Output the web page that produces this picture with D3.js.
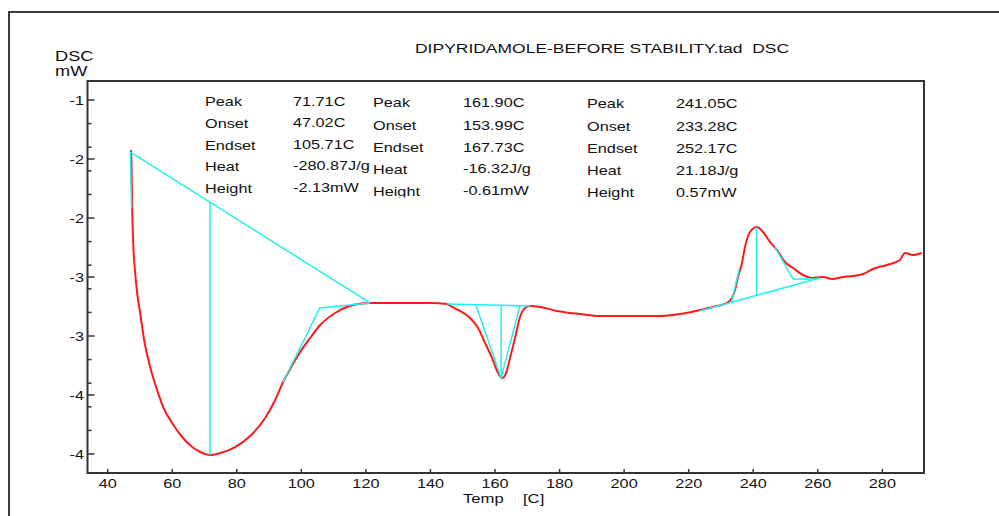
<!DOCTYPE html>
<html>
<head>
<meta charset="utf-8">
<script src="https://cdn.jsdelivr.net/npm/d3@7"></script>
<style>
  html, body { margin: 0; padding: 0; background: #fff; }
  svg { display: block; }
  text { font-family: "Liberation Sans", Arial, sans-serif; fill: #111; }
</style>
</head>
<body>
<svg id="chart" width="999" height="516"></svg>
<script>
// ---------- data ----------
const temps = [47.12, 47.28, 47.59, 47.90, 48.52, 49.14, 50.06, 51.30, 53.16, 55.33, 57.19, 59.97,
  63.07, 66.17, 68.65, 71.71, 74.85, 79.49, 84.14, 88.79, 91.88, 94.36, 96.53, 99.63, 102.73,
  105.83, 110.47, 116.05, 121.29, 130.58, 139.88, 145.14, 146.69, 149.17, 152.27, 154.75,
  156.91, 159.08, 160.94, 162.18, 163.42, 164.66, 166.21, 167.75, 169.30, 170.85, 173.95,
  179.21, 186.34, 192.53, 201.82, 211.11, 217.31, 223.50, 227.53, 231.86, 233.41, 234.34,
  235.27, 236.51, 237.44, 238.99, 241.16, 243.02, 245.18, 247.35, 249.83, 252.31, 255.40,
  258.50, 261.60, 264.38, 267.79, 270.89, 273.98, 277.08, 281.42, 285.44, 286.99, 289.47, 292.26];
const dsc = [-1.424, -1.441, -1.915, -2.203, -2.466, -2.636, -2.805, -3.034, -3.263, -3.458, -3.602, -3.737,
  -3.856, -3.941, -3.983, -4.008, -3.992, -3.941, -3.847, -3.695, -3.542, -3.390, -3.280, -3.136, -3.017,
  -2.907, -2.805, -2.737, -2.720, -2.720, -2.720, -2.729, -2.754, -2.788, -2.847, -2.932,
  -3.059, -3.186, -3.314, -3.356, -3.314, -3.186, -3.017, -2.839, -2.763, -2.746, -2.754,
  -2.788, -2.814, -2.831, -2.831, -2.831, -2.814, -2.780, -2.754, -2.720, -2.678, -2.610,
  -2.500, -2.381, -2.246, -2.119, -2.076, -2.119, -2.203, -2.271, -2.373, -2.424, -2.483,
  -2.508, -2.500, -2.517, -2.500, -2.492, -2.475, -2.432, -2.398, -2.356, -2.297, -2.314, -2.297];

// evaluation construction lines (cyan), [T, mW] pairs
const evalLines = [
  [[47.02, -1.441], [121.29, -2.720]],                 // peak 1 baseline
  [[47.02, -1.441], [47.40, -1.915]],                  // peak 1 onset tangent
  [[71.71, -4.008], [71.71, -1.866]],                  // peak 1 height
  [[94.36, -3.390], [105.71, -2.763], [121.29, -2.720]], // peak 1 endset tangent
  [[145.14, -2.729], [170.85, -2.746]],                // peak 2 baseline
  [[153.99, -2.731], [161.90, -3.356], [167.73, -2.740]], // peak 2 tangents
  [[161.90, -3.356], [161.90, -2.735]],                // peak 2 height
  [[223.50, -2.788], [260.65, -2.508]],                // peak 3 baseline
  [[233.28, -2.714], [235.58, -2.441]],                // peak 3 onset tangent
  [[246.72, -2.246], [252.31, -2.517], [259.70, -2.517]], // peak 3 endset tangent
  [[241.05, -2.076], [241.05, -2.656]]                 // peak 3 height
];

const xTicks = [40, 60, 80, 100, 120, 140, 160, 180, 200, 220, 240, 260, 280];
const yTicks = [-1.0, -1.5, -2.0, -2.5, -3.0, -3.5, -4.0];
const yTickLabels = ["-1", "-2", "-2", "-3", "-3", "-4", "-4"];
const yMinorTicks = [-1.2, -1.4, -1.6, -1.8, -2.2, -2.4, -2.6, -2.8, -3.2, -3.4, -3.6, -3.8];

const rowLabels = ["Peak", "Onset", "Endset", "Heat", "Height"];
const peak1Values = ["71.71C", "47.02C", "105.71C", "-280.87J/g", "-2.13mW"];
const peak2Values = ["161.90C", "153.99C", "167.73C", "-16.32J/g", "-0.61mW"];
const peak3Values = ["241.05C", "233.28C", "252.17C", "21.18J/g", "0.57mW"];

const title = "DIPYRIDAMOLE-BEFORE STABILITY.tad  DSC";

// ---------- layout ----------
const svg = d3.select("#chart");
const L = 87.5, R = 924, T = 81, B = 473;
const x = d3.scaleLinear().domain([33.75, 292.9]).range([L, R]);
const y = d3.scaleLinear().domain([-4.161, -0.839]).range([B, T]);
const SX = 1.28;

function stext(g, px, py, str, size, anchor, sx) {
  return g.append("text")
    .attr("transform", `translate(${px},${py}) scale(${sx || SX},1)`)
    .attr("text-anchor", anchor || "start")
    .style("font-size", size + "px")
    .style("white-space", "pre")
    .text(str);
}

const defs = svg.append("defs");
defs.append("clipPath").attr("id", "plotclip")
  .append("rect").attr("x", L).attr("y", T).attr("width", R - L).attr("height", B - T);
defs.append("clipPath").attr("id", "col2clip")
  .append("rect").attr("x", 0).attr("y", 0).attr("width", 999).attr("height", 197.5);

// outer frame
svg.append("path").attr("d", "M9,516 L9,12 L999,12")
  .attr("fill", "none").attr("stroke", "#3a3a3a").attr("stroke-width", 2);

// plot box
svg.append("rect").attr("x", L).attr("y", T).attr("width", R - L).attr("height", B - T)
  .attr("fill", "none").attr("stroke", "#333").attr("stroke-width", 2);

// x ticks
const gx = svg.append("g");
gx.selectAll("line").data(xTicks).join("line")
  .attr("x1", d => x(d)).attr("x2", d => x(d))
  .attr("y1", B).attr("y2", B - 4)
  .attr("stroke", "#333").attr("stroke-width", 1.5);
xTicks.forEach(t => stext(gx, x(t), 488, String(t), 13, "middle", 1.25));

// y ticks
const gy = svg.append("g");
gy.selectAll("line.major").data(yTicks).join("line").attr("class", "major")
  .attr("x1", L).attr("x2", L + 7)
  .attr("y1", d => y(d)).attr("y2", d => y(d))
  .attr("stroke", "#333").attr("stroke-width", 1.5);
gy.selectAll("line.minor").data(yMinorTicks).join("line").attr("class", "minor")
  .attr("x1", L).attr("x2", L + 4)
  .attr("y1", d => y(d)).attr("y2", d => y(d))
  .attr("stroke", "#333").attr("stroke-width", 1.5);
yTicks.forEach((t, i) => stext(gy, 84, y(t) + 5, yTickLabels[i], 13, "end", 1.25));

// axis titles
stext(svg, 55, 61, "DSC", 14, "start", 1.3);
stext(svg, 55, 76, "mW", 14, "start", 1.3);
stext(svg, 463, 503, "Temp", 13, "start", 1.28);
stext(svg, 523, 503, "[C]", 13, "start", 1.28);

// title
stext(svg, 415, 53, title, 13.5, "start", 1.295);

// data curve
const plot = svg.append("g").attr("clip-path", "url(#plotclip)");
const curveLine = d3.line().x(d => x(d[0])).y(d => y(d[1])).curve(d3.curveMonotoneX);
const line = d3.line().x(d => x(d[0])).y(d => y(d[1]));
const pts = temps.map((t, i) => [t, dsc[i]]);
plot.append("path").datum(pts)
  .attr("d", curveLine).attr("fill", "none")
  .attr("stroke", "#ff1a1a").attr("stroke-width", 2).attr("stroke-linejoin", "round");

// evaluation lines
plot.selectAll("path.eval").data(evalLines).join("path").attr("class", "eval")
  .attr("d", line).attr("fill", "none")
  .attr("stroke", "#22f0f0").attr("stroke-width", 1.5);

// results table
const cols = [
  { lx: 205, vx: 293, vals: peak1Values, ys: [106, 127.5, 149.5, 171, 193], vys: [106, 127, 149, 170, 192], clip: false },
  { lx: 373, vx: 463, vals: peak2Values, ys: [107, 130, 152, 173.5, 196], vys: [107, 130, 152, 173, 195], clip: true },
  { lx: 587, vx: 676, vals: peak3Values, ys: [108, 130.5, 153, 175, 197], vys: [108, 130.5, 153, 175, 197], clip: false }
];
cols.forEach(c => {
  const gt = svg.append("g");
  if (c.clip) gt.attr("clip-path", "url(#col2clip)");
  rowLabels.forEach((lab, i) => {
    stext(gt, c.lx, c.ys[i], lab, 12.5, "start", 1.3);
    stext(gt, c.vx, c.vys[i], c.vals[i], 12.5, "start", 1.3);
  });
});
</script>
</body>
</html>
